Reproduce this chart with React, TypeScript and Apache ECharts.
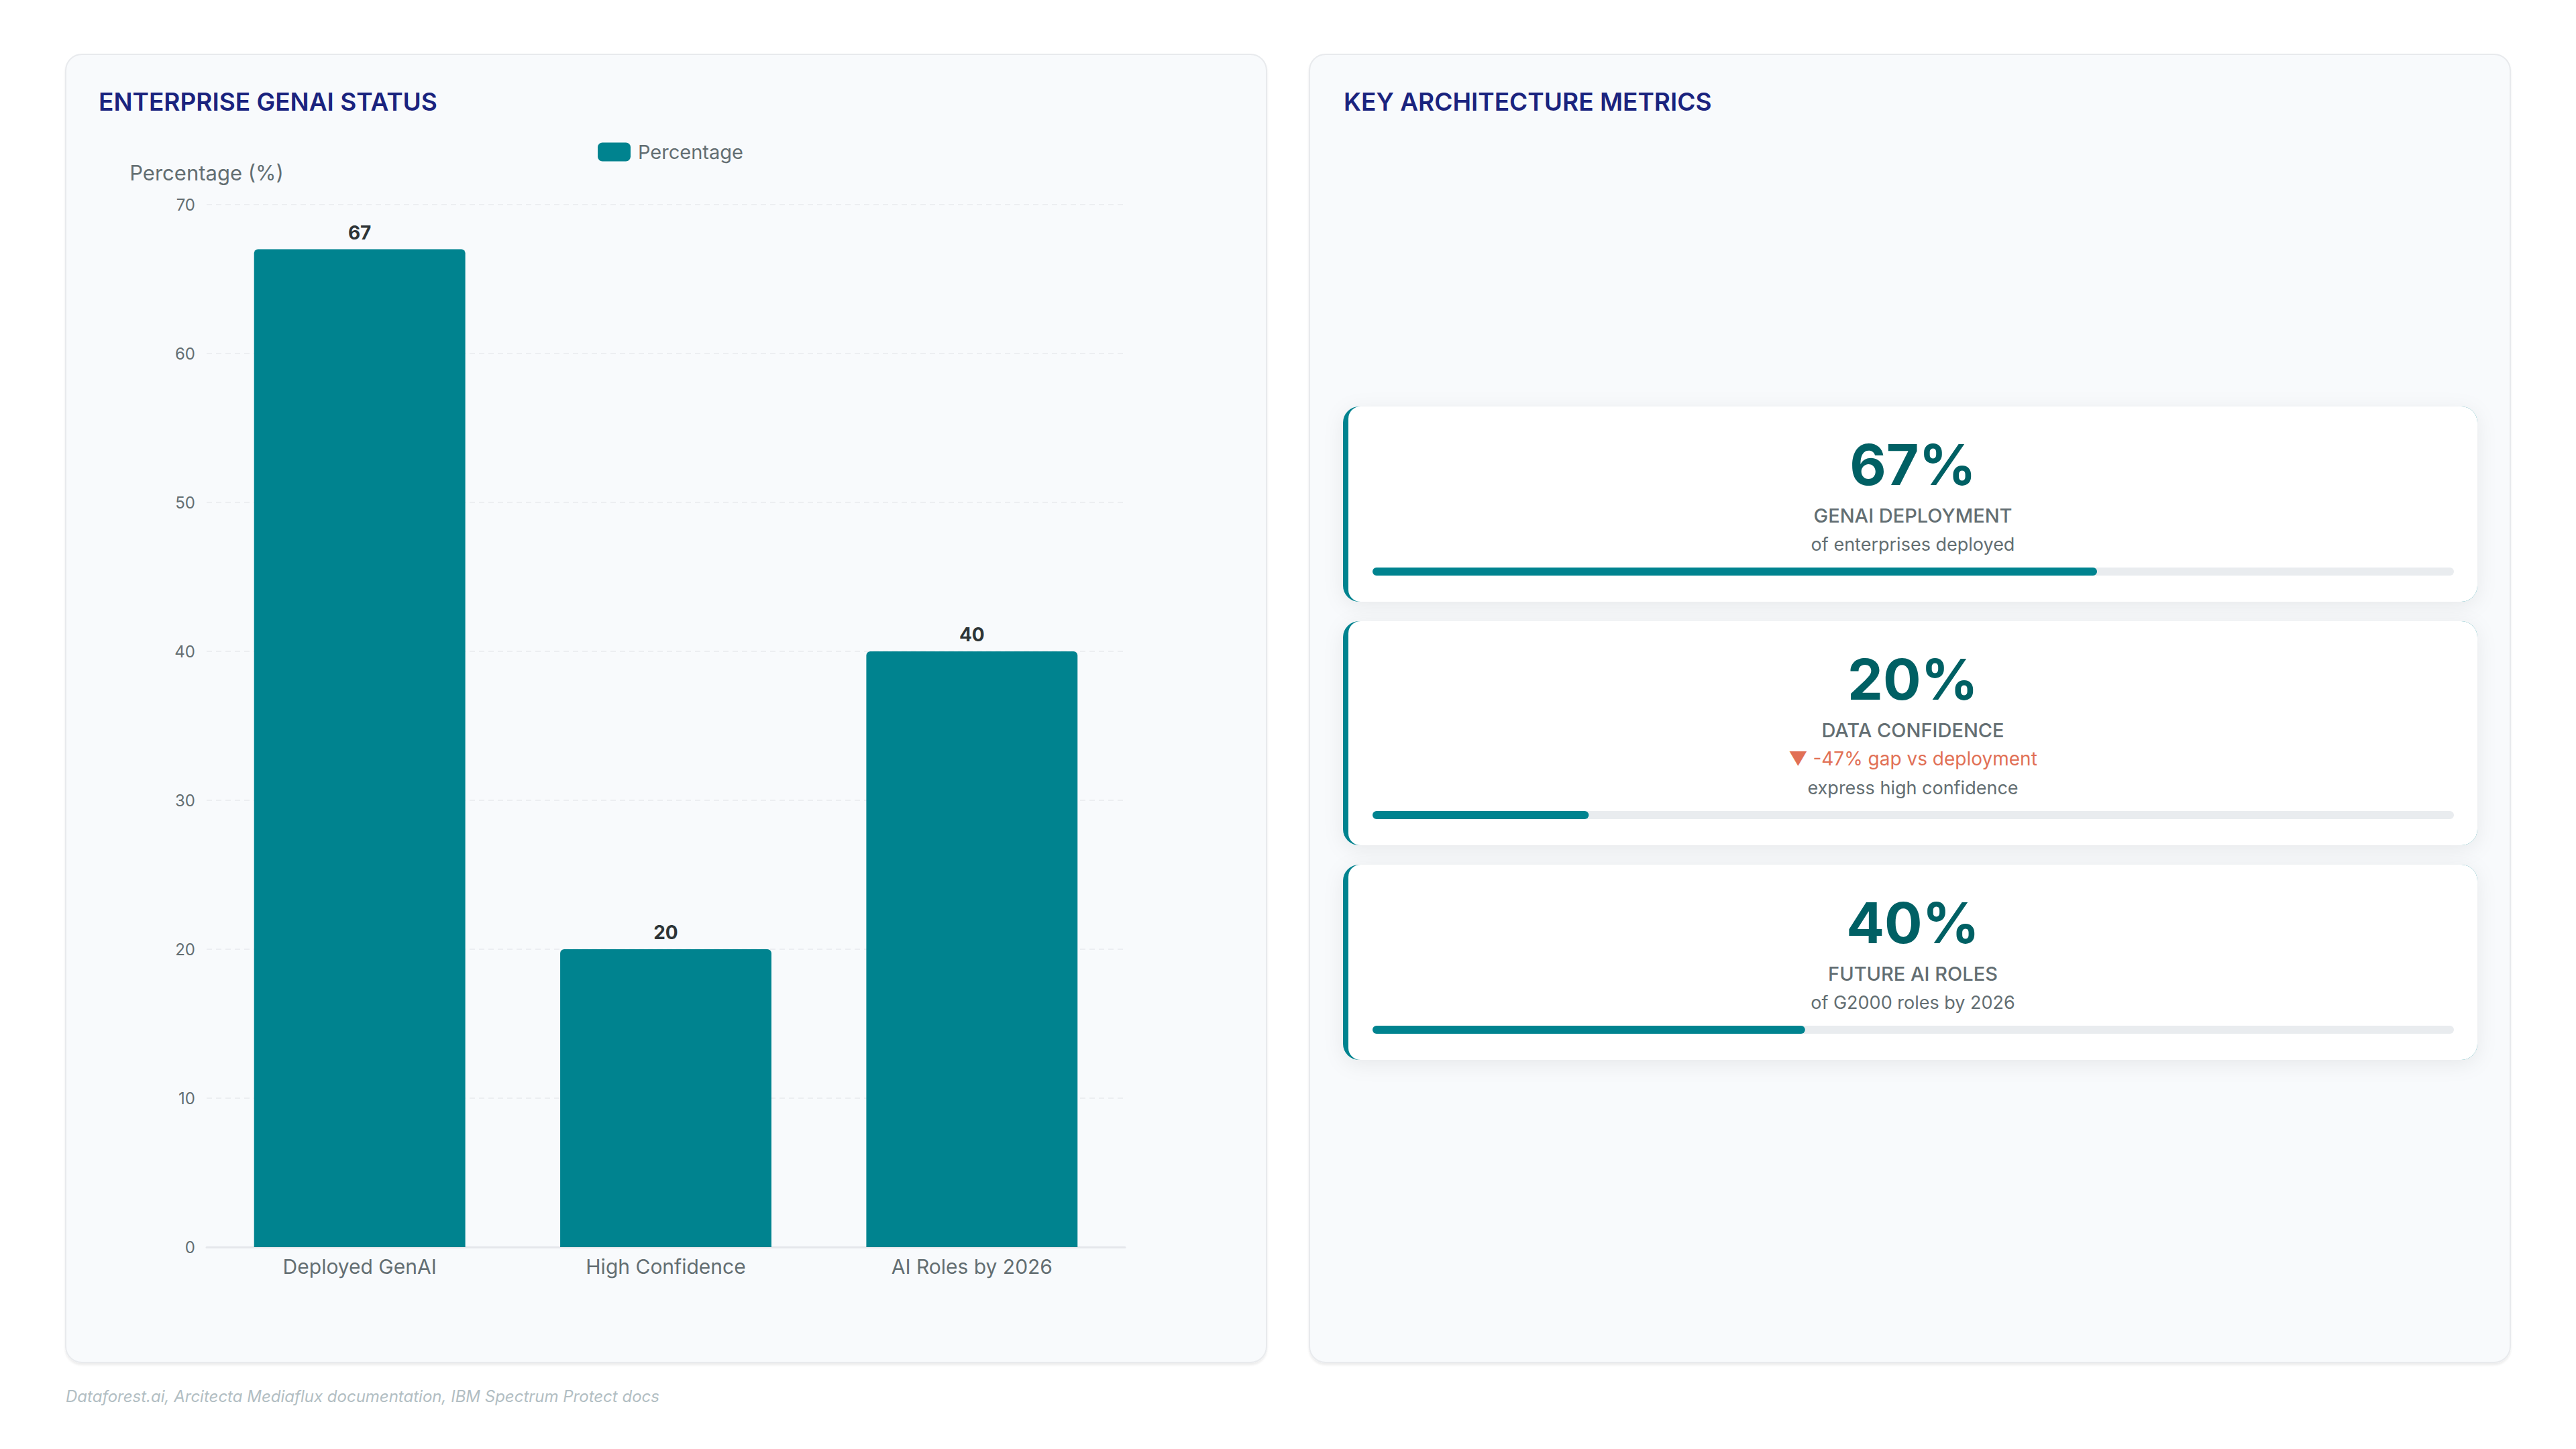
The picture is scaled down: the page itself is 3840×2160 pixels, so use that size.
import { useEffect, useRef } from 'react';
import * as echarts from 'echarts';

// bar chart data
const categories = ['Deployed GenAI', 'High Confidence', 'AI Roles by 2026'];
const percentages = [67, 20, 40];
const seriesName = 'Percentage';
const yAxisName = 'Percentage (%)';
const yMin = 0;
const yMax = 70;
const yStep = 10;

// metric cards
const metricValues = [67, 20, 40];
const metricTitles = ['GENAI DEPLOYMENT', 'DATA CONFIDENCE', 'FUTURE AI ROLES'];
const metricDeltas = ['', '▼ -47% gap vs deployment', ''];
const metricNotes = ['of enterprises deployed', 'express high confidence', 'of G2000 roles by 2026'];

const leftTitle = 'ENTERPRISE GENAI STATUS';
const rightTitle = 'KEY ARCHITECTURE METRICS';
const sourceNote = 'Dataforest.ai, Arcitecta Mediaflux documentation, IBM Spectrum Protect docs';

const FONT = 'Inter, "Noto Sans", "DejaVu Sans", sans-serif';
const TEAL = '#00838f';
const DARK_TEAL = '#006064';
const NAVY = '#1a237e';
const GREY = '#636e72';

function txt(x: number, y: number, text: string, size: number, fill: string, extra: Record<string, unknown> = {}) {
  const { align = 'left', weight = 'normal', italic = false, z = 10 } = extra as {
    align?: string; weight?: string | number; italic?: boolean; z?: number;
  };
  return {
    type: 'text',
    x,
    y,
    z,
    silent: true,
    style: {
      text,
      fill,
      fontSize: size,
      fontWeight: weight,
      fontStyle: italic ? 'italic' : 'normal',
      fontFamily: FONT,
      align,
      verticalAlign: 'middle',
      textAlign: align,
      textVerticalAlign: 'middle',
    },
  };
}

function buildOption() {
  const graphics: Record<string, unknown>[] = [];

  // panels
  [98, 1952].forEach((x) => {
    graphics.push({
      type: 'rect',
      z: -10,
      silent: true,
      shape: { x, y: 81, width: 1790, height: 1950, r: 24 },
      style: {
        fill: '#f8fafc',
        stroke: '#e8eaed',
        lineWidth: 2,
        shadowColor: 'rgba(0,0,0,0.07)',
        shadowBlur: 3,
        shadowOffsetY: 3,
      },
    });
  });

  graphics.push(txt(147, 151, leftTitle, 37, NAVY, { weight: 600 }));
  graphics.push(txt(2003, 151, rightTitle, 37, NAVY, { weight: 600 }));
  graphics.push(txt(98, 2081, sourceNote, 24, '#b2bec3', { italic: true }));

  // metric cards, stacked from the top
  const cardX = 2002;
  const cardW = 1691;
  const barLeft = 2046;
  const barWidth = 1612;
  const barCenters: number[] = [];
  let top = 606;
  metricValues.forEach((v, i) => {
    const lines: { text: string; color: string; size: number }[] = [];
    if (metricDeltas[i]) lines.push({ text: metricDeltas[i], color: '#e17055', size: 28 });
    lines.push({ text: metricNotes[i], color: GREY, size: 27 });
    const firstLine = top + 205;
    const lastLine = firstLine + (lines.length - 1) * 43;
    const barCenter = lastLine + 41;
    const height = barCenter - top + 45;
    barCenters.push(barCenter);

    graphics.push({
      type: 'rect',
      z: 1,
      silent: true,
      shape: { x: cardX, y: top, width: cardW, height, r: 24 },
      style: {
        fill: TEAL,
        shadowColor: 'rgba(0,0,0,0.07)',
        shadowBlur: 30,
        shadowOffsetY: 6,
      },
    });
    graphics.push({
      type: 'rect',
      z: 2,
      silent: true,
      shape: { x: cardX + 8, y: top, width: cardW - 8, height, r: [18, 24, 24, 18] },
      style: { fill: '#ffffff' },
    });

    const cx = cardX + 8 + (cardW - 8) / 2;
    graphics.push(txt(cx, top + 86, `${v}%`, 84, DARK_TEAL, { align: 'center', weight: 'bold' }));
    graphics.push(txt(cx, top + 162, metricTitles[i], 29, GREY, { align: 'center', weight: 500 }));
    lines.forEach((l, k) => {
      graphics.push(txt(cx, firstLine + k * 43, l.text, l.size, l.color, { align: 'center' }));
    });

    top += height + 29;
  });

  const grids: Record<string, unknown>[] = [
    { left: 308, top: 305, right: 2163, bottom: 301, containLabel: false },
  ];
  const xAxes: Record<string, unknown>[] = [
    {
      type: 'category',
      gridIndex: 0,
      data: categories,
      axisTick: { show: false },
      axisLine: { lineStyle: { color: '#e5e7eb', width: 3 } },
      axisLabel: { color: GREY, fontSize: 30, fontFamily: FONT, margin: 14 },
    },
  ];
  const yAxes: Record<string, unknown>[] = [
    {
      type: 'value',
      gridIndex: 0,
      min: yMin,
      max: yMax,
      interval: yStep,
      name: yAxisName,
      nameLocation: 'end',
      nameGap: 48,
      nameTextStyle: {
        color: GREY,
        fontSize: 31,
        fontFamily: FONT,
        align: 'center',
        verticalAlign: 'middle',
      },
      axisLine: { show: false },
      axisTick: { show: false },
      axisLabel: { color: GREY, fontSize: 24, fontFamily: FONT, margin: 17 },
      splitLine: { lineStyle: { color: '#eceef1', width: 2, type: [8, 6] } },
    },
  ];
  const series: Record<string, unknown>[] = [
    {
      name: seriesName,
      type: 'bar',
      xAxisIndex: 0,
      yAxisIndex: 0,
      data: percentages,
      barCategoryGap: '31%',
      itemStyle: { color: TEAL, borderRadius: [6, 6, 0, 0] },
      label: {
        show: true,
        position: 'top',
        distance: 11,
        color: '#2d3436',
        fontSize: 28,
        fontWeight: 'bold',
        fontFamily: FONT,
      },
    },
  ];

  // progress bars in the cards
  metricValues.forEach((v, i) => {
    const gi = i + 1;
    grids.push({ left: barLeft, width: barWidth, top: barCenters[i] - 6, height: 12 });
    xAxes.push({ type: 'value', gridIndex: gi, min: 0, max: 100, show: false });
    yAxes.push({ type: 'category', gridIndex: gi, data: [metricTitles[i]], show: false });
    series.push({
      type: 'bar',
      xAxisIndex: gi,
      yAxisIndex: gi,
      data: [v],
      barWidth: 12,
      silent: true,
      z: 5,
      showBackground: true,
      backgroundStyle: { color: '#e9ecef', borderRadius: 6 },
      itemStyle: { color: TEAL, borderRadius: 6 },
    });
  });

  return {
    animation: false,
    backgroundColor: '#ffffff',
    textStyle: { fontFamily: FONT },
    legend: {
      data: [seriesName],
      left: 891,
      top: 212,
      padding: 0,
      icon: 'roundRect',
      itemWidth: 49,
      itemHeight: 28,
      textStyle: { color: GREY, fontSize: 29, fontFamily: FONT, padding: [0, 0, 0, 6] },
    },
    grid: grids,
    xAxis: xAxes,
    yAxis: yAxes,
    series,
    graphic: { elements: graphics },
  };
}

export default function App() {
  const chartRef = useRef<HTMLDivElement>(null);

  useEffect(() => {
    if (!chartRef.current) return;
    const chart = echarts.init(chartRef.current, undefined, { renderer: 'svg' });
    chart.setOption(buildOption());
    return () => chart.dispose();
  }, []);

  return (
    <div
      ref={chartRef}
      style={{ position: 'fixed', left: 0, top: 0, width: 3840, height: 2160, background: '#ffffff' }}
    />
  );
}
